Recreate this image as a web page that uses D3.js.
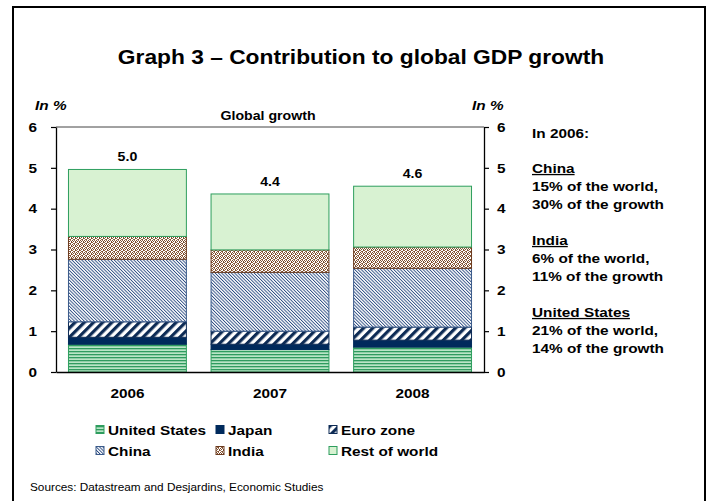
<!DOCTYPE html>
<html><head><meta charset="utf-8">
<script src="https://cdn.jsdelivr.net/npm/d3@7"></script>
<style>
html,body{margin:0;padding:0;background:#fff;}
svg text{font-family:"Liberation Sans",Arial,sans-serif;}
</style></head>
<body><svg id="c" width="711" height="501"></svg>
<script>
// ---- data ----
const years = ["2006", "2007", "2008"];
const seriesNames = ["United States", "Japan", "Euro zone", "China", "India", "Rest of world"];
const unitedStates = [0.68, 0.55, 0.61];
const japan        = [0.17, 0.13, 0.17];
const euroZone     = [0.38, 0.32, 0.32];
const china        = [1.53, 1.44, 1.44];
const india        = [0.56, 0.55, 0.52];
const restOfWorld  = [1.64, 1.37, 1.49];
const totalLabels  = ["5.0", "4.4", "4.6"];
const yTicks = [0, 1, 2, 3, 4, 5, 6];
const noteLines = [
  {t: "In 2006:", u: false, gap: 0},
  {t: "China", u: true, gap: 35},
  {t: "15% of the world,", u: false, gap: 18},
  {t: "30% of the growth", u: false, gap: 18},
  {t: "India", u: true, gap: 36},
  {t: "6% of the world,", u: false, gap: 18},
  {t: "11% of the growth", u: false, gap: 18},
  {t: "United States", u: true, gap: 36},
  {t: "21% of the world,", u: false, gap: 18},
  {t: "14% of the growth", u: false, gap: 18}
];

const SX = 1.18; // horizontal stretch of the reference
const svg = d3.select("#c");
const defs = svg.append("defs");

// patterns
function pat(id, w, h, build, rot) {
  const p = defs.append("pattern").attr("id", id).attr("patternUnits", "userSpaceOnUse")
    .attr("width", w).attr("height", h);
  if (rot) p.attr("patternTransform", "rotate(" + rot + ")");
  build(p);
}
pat("pUS", 4, 3, p => {
  p.append("rect").attr("width", 4).attr("height", 3).attr("fill", "#b9e5c6");
  p.append("rect").attr("y", 0).attr("width", 4).attr("height", 1.3).attr("fill", "#2f9b5f");
});
pat("pEU", 6.5, 6.5, p => {
  p.append("rect").attr("width", 6.5).attr("height", 6.5).attr("fill", "#fff");
  p.append("rect").attr("width", 3.2).attr("height", 6.5).attr("fill", "#0d2b55");
}, 45);
pat("pCN", 2.3, 2.3, p => {
  p.append("rect").attr("width", 2.3).attr("height", 2.3).attr("fill", "#fff");
  p.append("rect").attr("width", 0.9).attr("height", 2.3).attr("fill", "#2c4c82");
}, -45);
pat("pIN", 4, 4, p => {
  p.append("rect").attr("width", 4).attr("height", 4).attr("fill", "#fff");
  p.append("rect").attr("x", 0).attr("y", 0).attr("width", 1).attr("height", 1).attr("fill", "#7a4a2a");
  p.append("rect").attr("x", 1).attr("y", 1).attr("width", 1).attr("height", 1).attr("fill", "#7a4a2a");
  p.append("rect").attr("x", 2).attr("y", 0).attr("width", 1).attr("height", 1).attr("fill", "#9a6a4a");
  p.append("rect").attr("x", 3).attr("y", 1).attr("width", 1).attr("height", 1).attr("fill", "#7a4a2a");
  p.append("rect").attr("x", 0).attr("y", 2).attr("width", 1).attr("height", 1).attr("fill", "#9a6a4a");
  p.append("rect").attr("x", 2).attr("y", 3).attr("width", 1).attr("height", 1).attr("fill", "#7a4a2a");
  p.append("rect").attr("x", 3).attr("y", 2).attr("width", 1).attr("height", 1).attr("fill", "#7a4a2a");
  p.append("rect").attr("x", 1).attr("y", 3).attr("width", 1).attr("height", 1).attr("fill", "#9a6a4a");
});

const fills   = ["url(#pUS)", "#002a5c", "url(#pEU)", "url(#pCN)", "url(#pIN)", "#d8f2d2"];
const strokes = ["#2e9e5e", "#002a5c", "#0d2b55", "#3a5a8a", "#6b3a1e", "#2e9e5e"];

// outer frame
svg.append("rect").attr("x", 13).attr("y", 7).attr("width", 692).attr("height", 510)
  .attr("fill", "none").attr("stroke", "#000").attr("stroke-width", 2);

function txt(x, y, s, o) {
  o = o || {};
  const t = svg.append("text").attr("transform", `translate(${x},${y}) scale(${SX},1)`)
    .attr("font-size", o.size || 13).attr("font-weight", o.weight || "bold")
    .attr("text-anchor", o.anchor || "start").attr("fill", "#000").text(s);
  if (o.italic) t.attr("font-style", "italic");
  if (o.u) t.attr("text-decoration", "underline");
  return t;
}

// title
txt(361, 64, "Graph 3 \u2013 Contribution to global GDP growth", {size: 19.3, anchor: "middle"});

// scales
const x = d3.scaleBand().domain(years).range([56, 484]).paddingInner(0.166).paddingOuter(0.084);
const y = d3.scaleLinear().domain([0, 6]).range([372, 127]);

// stacked data
const rows = years.map((yr, i) => ({year: yr, "United States": unitedStates[i], "Japan": japan[i],
  "Euro zone": euroZone[i], "China": china[i], "India": india[i], "Rest of world": restOfWorld[i]}));
const stack = d3.stack().keys(seriesNames)(rows);

// frame top line
svg.append("line").attr("x1", 56).attr("x2", 484).attr("y1", y(6)).attr("y2", y(6))
  .attr("stroke", "#444").attr("stroke-width", 1);

stack.forEach((layer, k) => {
  svg.append("g").selectAll("rect").data(layer).join("rect")
    .attr("x", d => x(d.data.year) + 0.5)
    .attr("width", x.bandwidth() - 1)
    .attr("y", d => y(d[1]))
    .attr("height", d => y(d[0]) - y(d[1]))
    .attr("fill", fills[k]).attr("stroke", strokes[k]).attr("stroke-width", 1);
});

// total labels
const tops = stack[stack.length - 1];
tops.forEach((d, i) => {
  txt(x(d.data.year) + x.bandwidth() / 2, y(d[1]) - 8, totalLabels[i], {size: 12, anchor: "middle"});
});

// axes
const gL = svg.append("g").attr("transform", "translate(56,0)")
  .call(d3.axisLeft(y).tickValues(yTicks).tickFormat(d3.format("d")).tickSize(5).tickSizeOuter(0).tickPadding(14));
const gR = svg.append("g").attr("transform", "translate(484,0)")
  .call(d3.axisRight(y).tickValues(yTicks).tickFormat(d3.format("d")).tickSize(5).tickSizeOuter(0).tickPadding(8));
[gL, gR].forEach(g => {
  g.select(".domain").attr("stroke", "#000").attr("stroke-width", 1.3);
  g.selectAll(".tick line").attr("stroke", "#000").attr("stroke-width", 1.2);
  g.selectAll(".tick text").attr("font-size", 13).attr("font-weight", "bold")
    .attr("font-family", "Liberation Sans, Arial, sans-serif").attr("fill", "#000");
  g.attr("font-family", null);
});
gL.selectAll(".tick text").attr("transform", `scale(${SX},1)`).attr("x", -19 / SX);
gR.selectAll(".tick text").attr("transform", `scale(${SX},1)`).attr("x", 13 / SX);

const gB = svg.append("g").attr("transform", "translate(0,372)")
  .call(d3.axisBottom(x).tickSize(0).tickPadding(14));
gB.select(".domain").attr("stroke", "#000").attr("stroke-width", 1.3);
gB.selectAll(".tick text").attr("font-size", 13).attr("font-weight", "bold")
  .attr("font-family", "Liberation Sans, Arial, sans-serif").attr("fill", "#000")
  .attr("transform", `scale(${SX},1)`).attr("dy", "0.9em");
gB.selectAll(".tick").each(function(d) {
  d3.select(this).attr("transform", `translate(${x(d) + x.bandwidth() / 2},0)`);
});

// axis titles
txt(35, 110, "In %", {size: 13, italic: true});
txt(472, 110, "In %", {size: 13, italic: true});
txt(268, 120, "Global growth", {size: 12, anchor: "middle"});

// notes
let ny = 138;
noteLines.forEach(l => { ny += l.gap; txt(532, ny, l.t, {size: 13, u: l.u}); });

// legend
const legPos = [[108, 435], [228, 435], [341, 435], [108, 456], [228, 456], [341, 456]];
const legOrder = ["United States", "Japan", "Euro zone", "China", "India", "Rest of world"];
legOrder.forEach((name, i) => {
  const k = seriesNames.indexOf(name);
  const [lx, ly] = legPos[i];
  svg.append("rect").attr("x", lx - 12).attr("y", ly - 9.5).attr("width", 8).attr("height", 8)
    .attr("fill", fills[k]).attr("stroke", strokes[k]).attr("stroke-width", 1);
  txt(lx, ly, name, {size: 13});
});

// source
txt(30, 491, "Sources: Datastream and Desjardins, Economic Studies", {size: 10, weight: "normal"});
</script></body></html>
